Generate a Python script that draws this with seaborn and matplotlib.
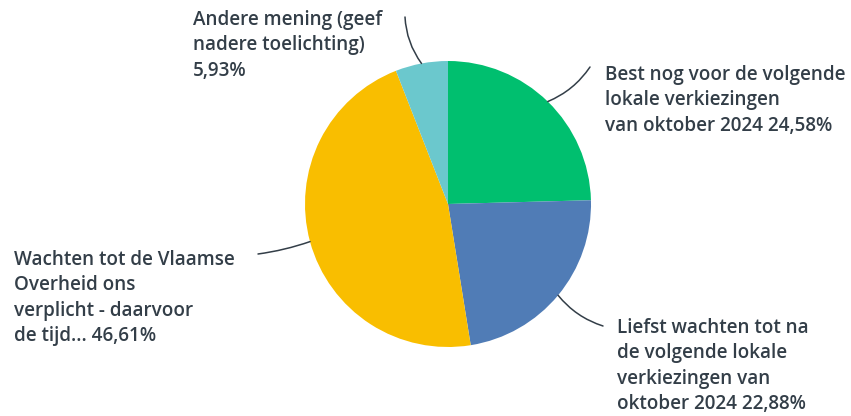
import numpy as np
import matplotlib
matplotlib.use("Agg")
import matplotlib.pyplot as plt
import seaborn as sns

labels = [
    "Best nog voor de volgende\nlokale verkiezingen\nvan oktober 2024",
    "Liefst wachten tot na\nde volgende lokale\nverkiezingen van\noktober 2024",
    "Wachten tot de Vlaamse\nOverheid ons\nverplicht - daarvoor\nde tijd...",
    "Andere mening (geef\nnadere toelichting)",
]
pct_text = ["24,58%", "22,88%", "46,61%", "5,93%"]
values = [24.58, 22.88, 46.61, 5.93]
colors = ["#00BF6F", "#507CB6", "#F9BE00", "#6BC8CD"]

sns.set_theme(style="white")
plt.rcParams["font.family"] = ["Open Sans", "DejaVu Sans"]

W, H = 851, 416
fig = plt.figure(figsize=(W / 100, H / 100), dpi=100)
ax = fig.add_axes([0, 0, 1, 1])

cx, cy, r = 448, H - 204, 143
wedges, _ = ax.pie(values, colors=colors, startangle=90, counterclock=False,
                   center=(cx, cy), radius=r, frame=True,
                   wedgeprops=dict(linewidth=0))
ax.set_xlim(0, W)
ax.set_ylim(0, H)
ax.set_aspect("equal")
ax.axis("off")

# leader line end points (pixels from top-left) and text anchors
line_ends = [(590, 67), (603, 326), (258, 254), (405, 17)]
rads = [-0.15, -0.15, 0.05, 0.15]
text_pos = [(605, 65), (617, 318), (14, 250), (193, 10)]
text_sep = [" ", " ", " ", "\n"]

for w, (ex, ey), rad, (tx, ty), lab, p, sep in zip(
        wedges, line_ends, rads, text_pos, labels, pct_text, text_sep):
    mid = np.deg2rad((w.theta1 + w.theta2) / 2)
    px, py = cx + r * np.cos(mid), cy + r * np.sin(mid)
    ax.annotate("", xy=(px, py), xytext=(ex, H - ey),
                arrowprops=dict(arrowstyle="-", color="#333e48", lw=1.1,
                                connectionstyle=f"arc3,rad={rad}",
                                shrinkA=0, shrinkB=0))
    fig.text(tx / W, 1 - ty / H, lab + sep + p, ha="left", va="top",
             fontsize=13.6, fontweight="semibold", color="#333e48",
             linespacing=1.36)

fig.savefig("out.png", dpi=100)
